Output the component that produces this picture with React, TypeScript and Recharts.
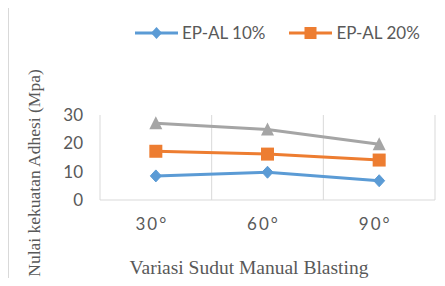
import React from 'react';
import { LineChart, Line, XAxis, YAxis, ReferenceLine, Legend } from 'recharts';

const categories = ['30°', '60°', '90°'];
const ep10 = [8.5, 9.8, 6.8];
const ep20 = [17.2, 16.2, 14.1];
const ep30 = [27.1, 24.9, 19.7];
const yTicks = [0, 10, 20, 30];
const boundaries = [0, 1, 2, 3];

const BLUE = '#5B9BD5';
const ORANGE = '#ED7D31';
const GRAY = '#A5A5A5';
const TEXT = '#595959';
const GRID = '#D9D9D9';

const data = categories.map((c, i) => ({
  x: i + 0.5,
  cat: c,
  ep10: ep10[i],
  ep20: ep20[i],
  ep30: ep30[i],
}));

const diamond = (props: any) => {
  const { cx, cy, index } = props;
  if (cx == null || cy == null) return <g key={`d${index}`} />;
  return (
    <path key={`d${index}`} d={`M${cx},${cy - 6}L${cx + 5.5},${cy}L${cx},${cy + 6}L${cx - 5.5},${cy}Z`} fill={BLUE} stroke={BLUE} strokeWidth={1} />
  );
};
const square = (props: any) => {
  const { cx, cy, index } = props;
  if (cx == null || cy == null) return <g key={`s${index}`} />;
  return <rect key={`s${index}`} x={cx - 6.5} y={cy - 6.5} width={13} height={13} fill={ORANGE} />;
};
const triangle = (props: any) => {
  const { cx, cy, index } = props;
  if (cx == null || cy == null) return <g key={`t${index}`} />;
  return <path key={`t${index}`} d={`M${cx},${cy - 7}L${cx + 6.5},${cy + 6}L${cx - 6.5},${cy + 6}Z`} fill={GRAY} />;
};

const legendItems = [
  { name: 'EP-AL 10%', color: BLUE, marker: 'diamond' },
  { name: 'EP-AL 20%', color: ORANGE, marker: 'square' },
];

const renderLegend = () => (
  <div style={{ display: 'flex', alignItems: 'center', fontFamily: 'Lato, sans-serif', fontSize: 17, color: TEXT, whiteSpace: 'nowrap' }}>
    {legendItems.map((it, i) => (
      <div key={it.name} style={{ display: 'flex', alignItems: 'center', marginRight: i === 0 ? 24 : 0 }}>
        <svg width={43} height={14} style={{ display: 'block' }}>
          <line x1={0} y1={7} x2={43} y2={7} stroke={it.color} strokeWidth={3} />
          {it.marker === 'diamond' ? (
            <path d="M21.5,1L27,7L21.5,13L16,7Z" fill={it.color} />
          ) : (
            <rect x={15.5} y={1} width={12} height={12} fill={it.color} />
          )}
        </svg>
        <span style={{ marginLeft: 4, lineHeight: '20px' }}>{it.name}</span>
      </div>
    ))}
  </div>
);

export default function App() {
  return (
    <div style={{ width: 436, height: 270, borderTop: `1px solid ${GRID}`, borderLeft: `1px solid ${GRID}`, marginTop: -1, background: '#fff' }}>
      <LineChart width={436} height={270} data={data} margin={{ top: 107, right: 10, bottom: 48, left: 31 }}>
        <XAxis
          type="number"
          dataKey="x"
          domain={[0, 3]}
          ticks={[0.5, 1.5, 2.5]}
          tickFormatter={(v: number) => categories[Math.floor(v)]}
          axisLine={{ stroke: GRID, strokeWidth: 1 }}
          tickLine={false}
          tickSize={0}
          tickMargin={18}
          height={30}
          tick={{ fill: TEXT, fontSize: 17, fontFamily: 'Lato, sans-serif', letterSpacing: 2, dx: -4 }}
          label={{
            content: () => (
              <text x={240} y={266} textAnchor="middle" fontFamily="'Liberation Serif', serif" fontSize={19.5} fill={TEXT}>
                Variasi Sudut Manual Blasting
              </text>
            ),
          }}
        />
        <YAxis
          domain={[0, 30]}
          ticks={yTicks}
          axisLine={false}
          tickLine={false}
          tickSize={0}
          tickMargin={17}
          width={60}
          tick={{ fill: TEXT, fontSize: 17, fontFamily: 'Lato, sans-serif' }}
          label={{
            content: () => (
              <text x={0} y={0} transform="translate(31,165) rotate(-90)" textAnchor="middle" fontFamily="'Liberation Serif', serif" fontSize={17.5} fill={TEXT}>
                Nulai kekuatan Adhesi (Mpa)
              </text>
            ),
          }}
        />
        {boundaries.map((b) => (
          <ReferenceLine key={b} x={b} stroke={GRID} strokeWidth={1} />
        ))}
        <Legend content={renderLegend} layout="horizontal" verticalAlign="middle" align="center" wrapperStyle={{ top: 15, left: 126, width: 'auto', height: 'auto' }} />
        <Line type="linear" dataKey="ep30" name="EP-AL 30%" stroke={GRAY} strokeWidth={3} dot={triangle} isAnimationActive={false} legendType="none" />
        <Line type="linear" dataKey="ep20" name="EP-AL 20%" stroke={ORANGE} strokeWidth={3} dot={square} isAnimationActive={false} />
        <Line type="linear" dataKey="ep10" name="EP-AL 10%" stroke={BLUE} strokeWidth={3} dot={diamond} isAnimationActive={false} />
      </LineChart>
    </div>
  );
}
